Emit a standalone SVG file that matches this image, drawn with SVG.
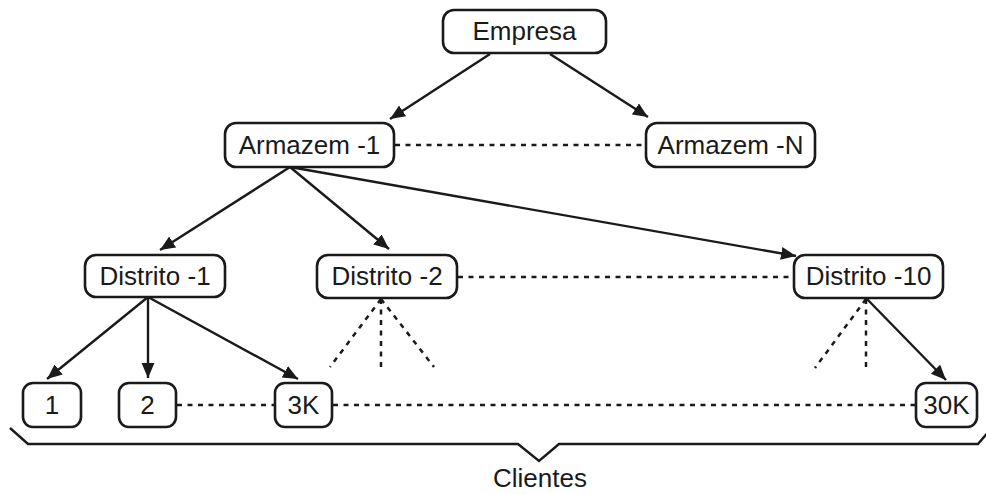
<svg xmlns="http://www.w3.org/2000/svg" width="986" height="494" viewBox="0 0 986 494">
  <defs>
    <marker id="arrow" markerUnits="userSpaceOnUse" markerWidth="16" markerHeight="14" refX="15" refY="6.5" orient="auto">
      <path d="M0,0 L15,6.5 L0,13 Z" fill="#1a1a1a"/>
    </marker>
    <style>
      .box { fill: #fff; stroke: #1a1a1a; stroke-width: 2.6; }
      .lbl { font-family: "Liberation Sans", Arial, sans-serif; font-size: 26px; fill: #1a1a1a; text-anchor: middle; }
      .edge { stroke: #1a1a1a; stroke-width: 2.4; fill: none; }
      .arr { marker-end: url(#arrow); }
      .dash { stroke: #1a1a1a; stroke-width: 2.5; fill: none; stroke-dasharray: 5 5.5; }
    </style>
  </defs>
  <rect width="986" height="494" fill="#fff"/>

  <!-- connectors -->
  <g id="connectors">
    <line class="edge arr" x1="490" y1="54" x2="390" y2="119"/>
    <line class="edge arr" x1="550" y1="54" x2="648" y2="117"/>
    <line class="edge arr" x1="290" y1="167" x2="160" y2="250"/>
    <line class="edge arr" x1="290" y1="167" x2="389" y2="249"/>
    <line class="edge arr" x1="290" y1="167" x2="796" y2="256"/>
    <line class="edge arr" x1="148" y1="297" x2="47" y2="379"/>
    <line class="edge arr" x1="148" y1="297" x2="148" y2="378"/>
    <line class="edge arr" x1="148" y1="297" x2="298" y2="379"/>
    <line class="edge arr" x1="866" y1="298" x2="946" y2="380"/>
    <!-- dotted siblings -->
    <line class="dash" x1="395" y1="145" x2="646" y2="145"/>
    <line class="dash" x1="458" y1="277" x2="794" y2="277"/>
    <line class="dash" x1="177" y1="405" x2="275" y2="405"/>
    <line class="dash" x1="333" y1="405" x2="916" y2="405"/>
    <!-- omitted children -->
    <line class="dash" x1="381" y1="299" x2="330" y2="367"/>
    <line class="dash" x1="381" y1="299" x2="381" y2="367"/>
    <line class="dash" x1="381" y1="299" x2="434" y2="367"/>
    <line class="dash" x1="866" y1="299" x2="815" y2="368"/>
    <line class="dash" x1="866" y1="299" x2="866" y2="368"/>
  </g>

  <g id="empresa">
    <rect class="box" x="443" y="10" width="163" height="43" rx="11"/>
    <text class="lbl" x="524.5" y="40">Empresa</text>
  </g>
  <g id="armazem-1">
    <rect class="box" x="225" y="123" width="169" height="44" rx="11"/>
    <text class="lbl" x="309.5" y="154">Armazem -1</text>
  </g>
  <g id="armazem-n">
    <rect class="box" x="646" y="123" width="169" height="44" rx="11"/>
    <text class="lbl" x="730.5" y="154">Armazem -N</text>
  </g>
  <g id="distrito-1">
    <rect class="box" x="85" y="255" width="140" height="42" rx="11"/>
    <text class="lbl" x="155" y="285">Distrito -1</text>
  </g>
  <g id="distrito-2">
    <rect class="box" x="317" y="255" width="140" height="43" rx="11"/>
    <text class="lbl" x="387" y="285">Distrito -2</text>
  </g>
  <g id="distrito-10">
    <rect class="box" x="794" y="255" width="149" height="43" rx="11"/>
    <text class="lbl" x="868.5" y="285">Distrito -10</text>
  </g>
  <g id="cliente-1">
    <rect class="box" x="23" y="383" width="58" height="44" rx="10"/>
    <text class="lbl" x="52" y="414">1</text>
  </g>
  <g id="cliente-2">
    <rect class="box" x="119" y="383" width="57" height="44" rx="10"/>
    <text class="lbl" x="147.5" y="414">2</text>
  </g>
  <g id="cliente-3k">
    <rect class="box" x="275" y="383" width="57" height="44" rx="10"/>
    <text class="lbl" x="303.5" y="414">3K</text>
  </g>
  <g id="cliente-30k">
    <rect class="box" x="916" y="383" width="61" height="44" rx="10"/>
    <text class="lbl" x="946.5" y="414">30K</text>
  </g>

  <!-- brace grouping the clients -->
  <g id="clientes">
    <path class="edge" d="M10,428 L28,444 L518,444 L539,461 L559,444 L978,444 L990,430"/>
    <text class="lbl" x="540" y="487">Clientes</text>
  </g>
</svg>
